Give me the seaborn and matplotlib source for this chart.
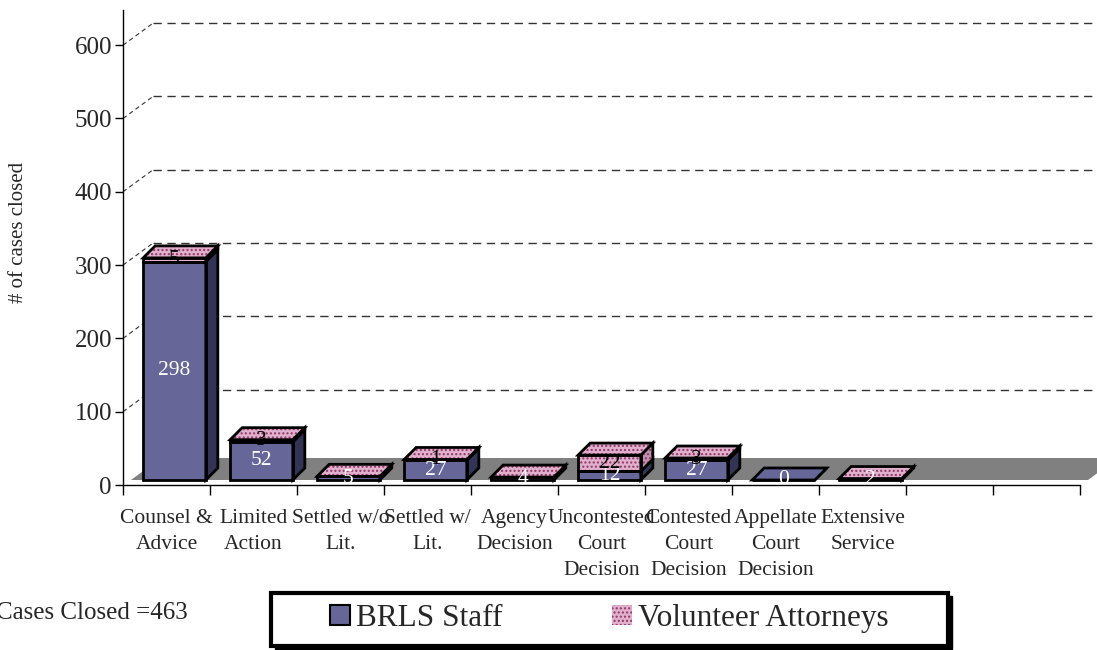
import numpy as np
import pandas as pd
import matplotlib
matplotlib.use("Agg")
import matplotlib.pyplot as plt
import matplotlib.transforms as mtransforms
from matplotlib.patches import Polygon, Rectangle, Patch
import seaborn as sns

# data
categories = ["Counsel &\nAdvice", "Limited\nAction", "Settled w/o\nLit.", "Settled w/\nLit.",
              "Agency\nDecision", "Uncontested\nCourt\nDecision", "Contested\nCourt\nDecision",
              "Appellate\nCourt\nDecision", "Extensive\nService"]
staff = [298, 52, 5, 27, 4, 12, 27, 0, 2]
volunteer = [5, 3, 0, 1, 0, 22, 3, np.nan, 0]
y_ticks = [0, 100, 200, 300, 400, 500, 600]
series_names = ["BRLS Staff", "Volunteer Attorneys"]
total_note = "Cases Closed =463"

df = pd.DataFrame({"category": categories, "staff": staff, "volunteer": volunteer})
df["total"] = df["staff"] + df["volunteer"].fillna(0)

sns.set_style("white")
plt.rcParams["font.family"] = ["Liberation Serif", "DejaVu Serif"]
plt.rcParams["hatch.linewidth"] = 1.0

BLUE = "#666699"
BLUE_SIDE = "#333355"
PINK = "#e2b0cc"
PINK_SIDE = "#c090ac"
MAROON = "#8a3a66"

fig = plt.figure(figsize=(10.97, 6.5), dpi=100)
ax = fig.add_axes([123 / 1097, 1 - 485 / 650, 957 / 1097, 475 / 650])

n_slots = 11
ymax = 648
sns.barplot(data=df, x="category", y="total", color=PINK, saturation=1, width=0.72,
            hatch="....", edgecolor=MAROON, linewidth=0, ax=ax, zorder=3)
sns.barplot(data=df, x="category", y="staff", color=BLUE, saturation=1, width=0.72,
            linewidth=0, ax=ax, zorder=4)
ax.set_xlim(-0.5, n_slots - 0.5)
ax.set_ylim(0, ymax)

# pixel -> data conversions for the fake 3D depth
px_x = 957 / n_slots
px_y = 475 / ymax
fdx, fdy = 30 / px_x, 22 / px_y      # floor / back wall depth
bdx, bdy = 12 / px_x, 12 / px_y      # bar depth

# floor
ax.add_patch(Polygon([(-0.5, 0), (n_slots - 0.5, 0), (n_slots - 0.5 + fdx, fdy), (-0.5 + fdx, fdy)],
                     closed=True, facecolor="#808080", edgecolor="none", zorder=1, clip_on=False))
# back wall grid
for v in y_ticks[1:]:
    ax.plot([-0.5 + fdx, n_slots - 0.5 + fdx], [v + fdy, v + fdy], color="#333333", lw=1,
            dashes=(6, 4), zorder=1, clip_on=False)
    ax.plot([-0.5, -0.5 + fdx], [v, v + fdy], color="#333333", lw=0.8,
            dashes=(4, 3), zorder=1, clip_on=False)

shift = mtransforms.ScaledTranslation(8 / 100, 5 / 100, fig.dpi_scale_trans)
trans = ax.transData + shift

n = len(df)
staff_bars = ax.patches[n:2 * n]
for p in ax.patches:
    p.set_transform(trans)

for i, p in enumerate(staff_bars):
    x0 = p.get_x()
    x1 = x0 + p.get_width()
    s = df["staff"].iloc[i]
    v = df["volunteer"].iloc[i]
    t = df["total"].iloc[i]
    z = 5
    # staff side face
    ax.add_patch(Polygon([(x1, 0), (x1 + bdx, bdy), (x1 + bdx, s + bdy), (x1, s)], closed=True,
                         facecolor=BLUE_SIDE, edgecolor="black", lw=2, transform=trans, zorder=z))
    ax.add_patch(Rectangle((x0, 0), x1 - x0, s, fill=False, edgecolor="black", lw=2,
                           transform=trans, zorder=z))
    if not np.isnan(v):
        if v > 0:
            side = [(x1, s), (x1 + bdx, s + bdy), (x1 + bdx, t + bdy), (x1, t)]
            ax.add_patch(Polygon(side, closed=True, facecolor=PINK_SIDE, edgecolor=MAROON,
                                 hatch="....", lw=0, transform=trans, zorder=z))
            ax.add_patch(Polygon(side, closed=True, fill=False, edgecolor="black", lw=2,
                                 transform=trans, zorder=z))
            ax.add_patch(Rectangle((x0, s), x1 - x0, v, fill=False, edgecolor="black", lw=2,
                                   transform=trans, zorder=z))
        top_fc, top_hatch = PINK, "...."
    else:
        top_fc, top_hatch = BLUE, None
    top = [(x0, t), (x1, t), (x1 + bdx, t + bdy), (x0 + bdx, t + bdy)]
    ax.add_patch(Polygon(top, closed=True, facecolor=top_fc, edgecolor=MAROON, hatch=top_hatch,
                         lw=0, transform=trans, zorder=z))
    ax.add_patch(Polygon(top, closed=True, fill=False, edgecolor="black", lw=2,
                         transform=trans, zorder=z))
    cx = (x0 + x1) / 2
    ax.text(cx, s / 2, f"{int(s)}", color="white", ha="center", va="center", fontsize=15.5,
            transform=trans, zorder=6)
    if not np.isnan(v) and v > 0:
        ax.text(cx, s + v / 2, f"{int(v)}", color="black", ha="center", va="center", fontsize=15.5,
                transform=trans, zorder=6)

# axes styling
for side in ["top", "right"]:
    ax.spines[side].set_visible(False)
for side in ["left", "bottom"]:
    ax.spines[side].set_color("black")
    ax.spines[side].set_linewidth(1)
ax.set_yticks(y_ticks)
ax.set_yticklabels([str(v) for v in y_ticks], fontsize=18)
ax.tick_params(axis="y", direction="out", length=6, width=1, color="black", pad=2, left=True)
ax.set_xticks(range(n))
ax.set_xticklabels(categories, fontsize=15.5, linespacing=1.5)
ax.set_xticks(np.arange(-0.5, n_slots, 1), minor=True)
ax.tick_params(axis="x", which="major", length=0, pad=17)
ax.tick_params(axis="x", which="minor", direction="out", length=7, width=1, color="black", bottom=True)
ax.set_xlabel("")
ax.set_ylabel("")
ax.grid(False)

fig.text(19 / 1097, 1 - 232 / 650, "# of cases closed", rotation=90, ha="center", va="center", fontsize=15)
fig.text(-4 / 1097, 1 - 613 / 650, total_note, ha="left", va="center", fontsize=18)

# legend box with shadow
bx0, by0, bw, bh = 271 / 1097, 1 - 646 / 650, 677 / 1097, 53 / 650
fig.patches.append(Rectangle((bx0 + 4 / 1097, by0 - 3 / 650), bw, bh, transform=fig.transFigure,
                             facecolor="black", edgecolor="black", zorder=1))
fig.patches.append(Rectangle((bx0, by0), bw, bh, transform=fig.transFigure,
                             facecolor="white", edgecolor="black", lw=3, zorder=2))
handles = [Patch(facecolor=BLUE, edgecolor="black", lw=1.5),
           Patch(facecolor=PINK, edgecolor=MAROON, hatch="....", lw=0)]
leg = fig.legend(handles, series_names, loc="center", bbox_to_anchor=(bx0 + bw / 2, by0 + bh / 2 + 1 / 650),
                 ncol=2, frameon=False, fontsize=22.5, handlelength=0.64, handleheight=0.64,
                 handletextpad=0.2, columnspacing=3.5)
leg.set_zorder(3)

fig.savefig("out.png", dpi=100)
